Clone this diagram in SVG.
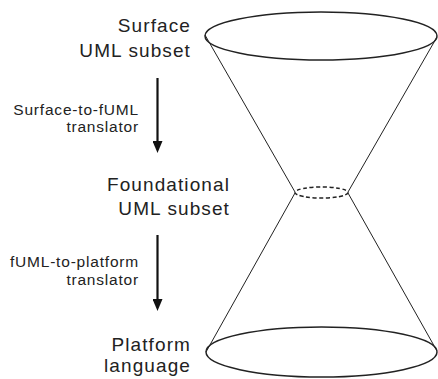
<svg xmlns="http://www.w3.org/2000/svg" width="438" height="379" viewBox="0 0 438 379">
<style>
.big{font-family:"Liberation Sans",Arial,sans-serif;font-size:19px;letter-spacing:1.1px;fill:#222;text-anchor:end}
.small{font-family:"Liberation Sans",Arial,sans-serif;font-size:15.5px;letter-spacing:0.8px;fill:#222;text-anchor:end}
.rim{fill:none;stroke:#222;stroke-width:1.5}
.side{fill:none;stroke:#222;stroke-width:1}
.arr{stroke:#111;stroke-width:2.2;fill:none}
</style>
<defs>
<marker id="ah" viewBox="0 0 12 10" refX="1" refY="5" markerWidth="12" markerHeight="10" markerUnits="userSpaceOnUse" orient="auto">
<path d="M0,0 L12,5 L0,10 Z" fill="#111"/>
</marker>
</defs>
<rect width="438" height="379" fill="#fff"/>
<g id="cone">
<ellipse class="rim" cx="321" cy="36" rx="116" ry="24"/>
<ellipse class="rim" cx="321.5" cy="192.5" rx="26.5" ry="5.5" stroke-dasharray="4,2.5"/>
<ellipse class="rim" cx="321.5" cy="352" rx="115.5" ry="25"/>
<line class="side" x1="205" y1="35" x2="295" y2="192"/>
<line class="side" x1="437" y1="37" x2="348" y2="192"/>
<line class="side" x1="295" y1="193" x2="206" y2="352"/>
<line class="side" x1="348" y1="193" x2="437" y2="351"/>
</g>
<g id="surface">
<text class="big" x="191" y="32">Surface</text>
<text class="big" x="191" y="57">UML subset</text>
</g>
<g id="foundational">
<text class="big" x="230" y="191">Foundational</text>
<text class="big" x="230" y="215">UML subset</text>
</g>
<g id="platform">
<text class="big" x="191" y="351">Platform</text>
<text class="big" x="191" y="372">language</text>
</g>
<g id="connectors">
<line class="arr" x1="157.5" y1="78" x2="157.5" y2="142" marker-end="url(#ah)"/>
<line class="arr" x1="157.5" y1="235" x2="157.5" y2="300" marker-end="url(#ah)"/>
<text class="small" x="139" y="115">Surface-to-fUML</text>
<text class="small" x="139" y="132">translator</text>
<text class="small" x="139" y="267">fUML-to-platform</text>
<text class="small" x="139" y="285">translator</text>
</g>
</svg>
